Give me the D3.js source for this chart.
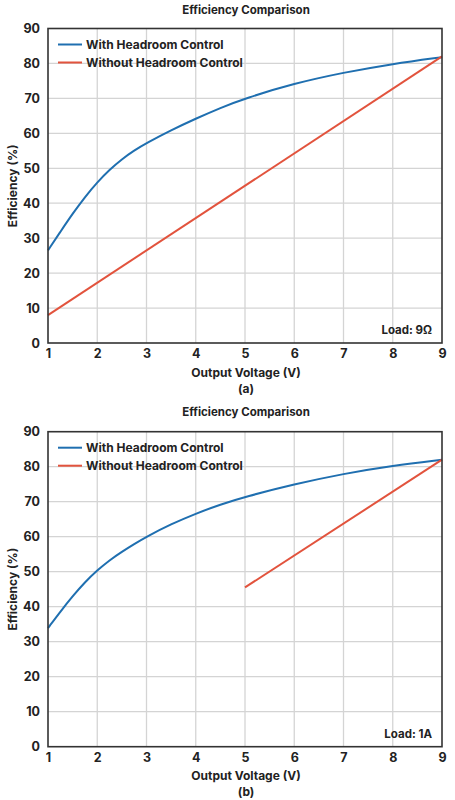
<!DOCTYPE html>
<html><head><meta charset="utf-8">
<script src="https://cdn.jsdelivr.net/npm/d3@7"></script>
<style>
html,body{margin:0;padding:0;background:#fff;}
svg text{font-family:Inter,Roboto,"DejaVu Sans",sans-serif;font-weight:700;fill:#222;}
</style></head>
<body>
<svg id="c" width="455" height="800"></svg>
<script>
const xTicks = [1,2,3,4,5,6,7,8,9];
const yTicks = [0,10,20,30,40,50,60,70,80,90];
const seriesNames = ["With Headroom Control","Without Headroom Control"];
const seriesColors = ["#1f6fb0","#e2533d"];

const aWithX = [1,1.25,1.5,1.75,2,2.25,2.5,2.75,3,3.5,4,4.5,5,6,7,8,9];
const aWithY = [26.5,31.8,37,41.8,46,49.6,52.6,55.1,57.2,60.9,64.2,67.3,70,74.3,77.4,79.9,81.8];
const aWithoutX = [1,9];
const aWithoutY = [8,82];

const bWithX = [1,1.25,1.5,1.75,2,2.25,2.5,2.75,3,3.5,4,4.5,5,6,7,8,9];
const bWithY = [33.9,38.6,43,47,50.4,53.3,55.7,57.9,60,63.6,66.6,69.2,71.4,75,78,80.3,82];
const bWithoutX = [5,9];
const bWithoutY = [45.5,82];

const titles = ["Efficiency Comparison","Efficiency Comparison"];
const loads = ["Load: 9Ω","Load: 1A"];
const subs = ["(a)","(b)"];
const xLabel = "Output Voltage (V)";
const yLabel = "Efficiency (%)";

const svg = d3.select("#c");

function panel(top0, yTop, yBot, withX, withY, woX, woY, title, load, sub) {
  const L = 48, R = 442;
  const x = d3.scaleLinear().domain([1,9]).range([L,R]);
  const y = d3.scaleLinear().domain([0,90]).range([yBot,yTop]);
  const g = svg.append("g");
  g.append("text").attr("x",246).attr("y",top0).attr("text-anchor","middle")
    .attr("dominant-baseline","middle").style("font-size","11.5px").text(title);
  g.append("g").selectAll("line").data(xTicks.slice(1,-1)).join("line")
    .attr("x1",d=>x(d)).attr("x2",d=>x(d)).attr("y1",yTop).attr("y2",yBot)
    .attr("stroke","#d4d4d4").attr("stroke-width",1.3);
  g.append("g").selectAll("line").data(yTicks.slice(1,-1)).join("line")
    .attr("y1",d=>y(d)).attr("y2",d=>y(d)).attr("x1",L).attr("x2",R)
    .attr("stroke","#d4d4d4").attr("stroke-width",1.3);
  const xa = g.append("g").attr("transform",`translate(0,${yBot})`)
    .call(d3.axisBottom(x).tickValues(xTicks).tickSize(0).tickPadding(6).tickFormat(d3.format("d")));
  xa.select(".domain").remove();
  xa.selectAll("text").style("font-size","12.5px").style("font-family","Inter,Roboto,sans-serif").attr("fill","#222");
  const ya = g.append("g").attr("transform",`translate(${L},0)`)
    .call(d3.axisLeft(y).tickValues(yTicks).tickSize(0).tickPadding(8).tickFormat(d3.format("d")));
  ya.select(".domain").remove();
  ya.selectAll("text").style("font-size","12.5px").style("font-family","Inter,Roboto,sans-serif").attr("fill","#222");
  const line = d3.line().x(d=>x(d[0])).y(d=>y(d[1])).curve(d3.curveBasis);
  g.append("path").datum(withX.map((v,i)=>[v,withY[i]])).attr("d",line)
    .attr("fill","none").attr("stroke",seriesColors[0]).attr("stroke-width",2);
  g.append("path").datum(woX.map((v,i)=>[v,woY[i]])).attr("d",line)
    .attr("fill","none").attr("stroke",seriesColors[1]).attr("stroke-width",2);
  g.append("rect").attr("x",L).attr("y",yTop).attr("width",R-L).attr("height",yBot-yTop)
    .attr("fill","none").attr("stroke","#333").attr("stroke-width",1.6);
  seriesNames.forEach((n,i)=>{
    const ly = yTop + 16 + i*18;
    g.append("line").attr("x1",58).attr("x2",82).attr("y1",ly).attr("y2",ly)
      .attr("stroke",seriesColors[i]).attr("stroke-width",2);
    g.append("text").attr("x",86).attr("y",ly).attr("dominant-baseline","central")
      .style("font-size","12px").text(n);
  });
  g.append("text").attr("x",432).attr("y",yBot-13).attr("text-anchor","end")
    .attr("dominant-baseline","central").style("font-size","11.5px").text(load);
  g.append("text").attr("x",246).attr("y",yBot+29).attr("text-anchor","middle")
    .attr("dominant-baseline","central").style("font-size","12px").text(xLabel);
  g.append("text").attr("x",246).attr("y",yBot+45).attr("text-anchor","middle")
    .attr("dominant-baseline","central").style("font-size","12px").text(sub);
  g.append("text").attr("transform",`translate(12,${(yTop+yBot)/2}) rotate(-90)`)
    .attr("text-anchor","middle").attr("dominant-baseline","central")
    .style("font-size","12px").text(yLabel);
}

panel(11, 28.5, 343, aWithX, aWithY, aWithoutX, aWithoutY, titles[0], loads[0], subs[0]);
panel(413, 431.7, 746.7, bWithX, bWithY, bWithoutX, bWithoutY, titles[1], loads[1], subs[1]);
</script>
</body></html>
